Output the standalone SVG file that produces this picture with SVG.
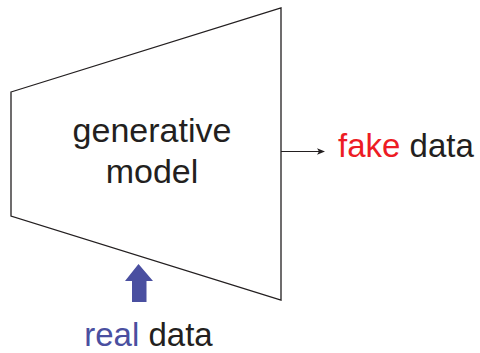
<svg xmlns="http://www.w3.org/2000/svg" width="480" height="353" viewBox="0 0 480 353">
<style>
text{font-family:"Liberation Sans",Arial,sans-serif;font-size:33px;fill:#231f20}
.big{font-size:34px}
.red{fill:#ed1c24}
.blue{fill:#4a4fa0}
</style>
<defs>
<marker id="ah" markerWidth="8" markerHeight="8" refX="7" refY="4" orient="auto" markerUnits="userSpaceOnUse">
<path d="M0,0.8 L8,4 L0,7.2 L2,4 Z" fill="#231f20"/>
</marker>
</defs>
<rect width="480" height="353" fill="#fff"/>
<g id="model">
<polygon points="11,92 281,8 281,300 11,216" fill="#fff" stroke="#231f20" stroke-width="1.3"/>
<text class="big" x="152" y="142" text-anchor="middle">generative</text>
<text class="big" x="152" y="183" text-anchor="middle">model</text>
</g>
<g id="fake">
<text x="338" y="157"><tspan class="red">fake</tspan> data</text>
</g>
<g id="real">
<text x="148.5" y="346" text-anchor="middle"><tspan class="blue">real</tspan> data</text>
</g>
<g id="connectors">
<line x1="281" y1="151.5" x2="324" y2="151.5" stroke="#231f20" stroke-width="1.2" marker-end="url(#ah)"/>
<polygon points="138.5,264 153,281 146.5,281 146.5,302 132,302 132,281 125,281" fill="#4a4fa0"/>
</g>
</svg>
